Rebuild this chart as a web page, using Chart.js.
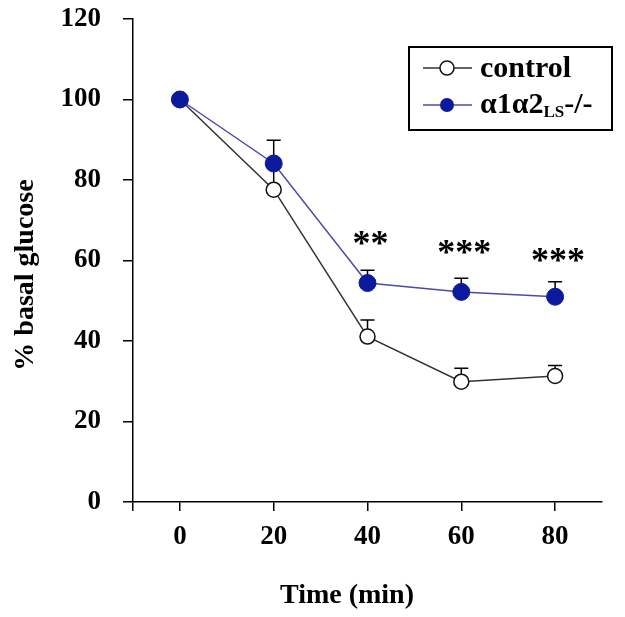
<!DOCTYPE html>
<html><head><meta charset="utf-8">
<script src="https://cdn.jsdelivr.net/npm/chart.js@4.4.0/dist/chart.umd.min.js"></script>
<style>html,body{margin:0;padding:0;background:#fff;}</style>
</head><body>
<canvas id="c" width="625" height="617"></canvas>
<script>
// ---- data ----
const times = [0, 20, 40, 60, 80];
const controlMean = [100, 77.6, 41.1, 29.9, 31.3];
const controlErr = [0, 5.5, 4.1, 3.3, 2.6];
const koMean = [100, 84.1, 54.4, 52.2, 51.0];
const koErr = [0, 5.8, 3.2, 3.4, 3.7];
const sigTimes = [40, 60, 80];
const sigLabels = ['**', '***', '***'];
const sigLevels = [65.6, 63.4, 61.4];
const xTickValues = [-10, 0, 20, 40, 60, 80];
const yTickValues = [0, 20, 40, 60, 80, 100, 120];
const xTitle = 'Time (min)';
const yTitle = '% basal glucose';
const legendControl = 'control';
const legendKO = ['\u03b11\u03b12', 'LS', '-/-'];

const FONT = "'Liberation Serif', 'DejaVu Serif', serif";
const KO_FILL = '#0b1a9c';
const KO_LINE = '#4b4bab';
const CT_LINE = '#333333';

const toXY = (xs, ys) => xs.map((x, i) => ({x: x, y: ys[i]}));

const errorBars = {
  id: 'errorBars',
  beforeDatasetsDraw(chart) {
    const ctx = chart.ctx, xs = chart.scales.x, ys = chart.scales.y;
    ctx.save();
    ctx.strokeStyle = '#000';
    ctx.lineWidth = 1.5;
    [[controlMean, controlErr], [koMean, koErr]].forEach(([m, e]) => {
      times.forEach((t, i) => {
        if (!e[i]) return;
        const px = xs.getPixelForValue(t);
        const y0 = ys.getPixelForValue(m[i]);
        const y1 = ys.getPixelForValue(m[i] + e[i]);
        ctx.beginPath();
        ctx.moveTo(px, y0); ctx.lineTo(px, y1);
        ctx.moveTo(px - 7, y1); ctx.lineTo(px + 7, y1);
        ctx.stroke();
      });
    });
    ctx.restore();
  },
  afterDraw(chart) {
    const ctx = chart.ctx, xs = chart.scales.x, ys = chart.scales.y;
    ctx.save();
    ctx.fillStyle = '#000';
    // significance stars
    ctx.font = 'bold 36px ' + FONT;
    ctx.textAlign = 'center';
    ctx.textBaseline = 'alphabetic';
    sigTimes.forEach((t, i) => {
      const px = xs.getPixelForValue(t) + 3;
      const py = ys.getPixelForValue(sigLevels[i]) + 0.48 * 36;
      ctx.fillText(sigLabels[i], px, py);
    });
    // axis titles
    ctx.font = 'bold 28px ' + FONT;
    ctx.textBaseline = 'middle';
    ctx.fillText(xTitle, 347, 596);
    ctx.save();
    ctx.translate(26, 275);
    ctx.rotate(-Math.PI / 2);
    ctx.fillText(yTitle, 0, 0);
    ctx.restore();
    // legend box
    ctx.lineWidth = 2;
    ctx.strokeStyle = '#000';
    ctx.strokeRect(409, 47, 203, 83);
    // control entry
    ctx.lineWidth = 1.5;
    ctx.strokeStyle = CT_LINE;
    ctx.beginPath(); ctx.moveTo(423, 68); ctx.lineTo(472, 68); ctx.stroke();
    ctx.beginPath(); ctx.arc(447, 68, 7, 0, Math.PI * 2);
    ctx.fillStyle = '#fff'; ctx.fill(); ctx.strokeStyle = '#111'; ctx.stroke();
    // ko entry
    ctx.strokeStyle = KO_LINE;
    ctx.beginPath(); ctx.moveTo(423, 105); ctx.lineTo(472, 105); ctx.stroke();
    ctx.beginPath(); ctx.arc(447, 105, 7, 0, Math.PI * 2);
    ctx.fillStyle = KO_FILL; ctx.fill();
    // legend texts
    ctx.fillStyle = '#000';
    ctx.textAlign = 'left';
    ctx.textBaseline = 'middle';
    ctx.font = 'bold 30px ' + FONT;
    ctx.fillText(legendControl, 480, 69);
    let x = 480;
    ctx.fillText(legendKO[0], x, 105);
    x += ctx.measureText(legendKO[0]).width;
    ctx.font = 'bold 17px ' + FONT;
    ctx.fillText(legendKO[1], x, 113);
    x += ctx.measureText(legendKO[1]).width;
    ctx.font = 'bold 30px ' + FONT;
    ctx.fillText(legendKO[2], x, 105);
    ctx.restore();
  }
};

new Chart(document.getElementById('c'), {
  type: 'line',
  data: {
    datasets: [
      {
        label: 'ko',
        data: toXY(times, koMean),
        order: 0,
        borderColor: KO_LINE,
        borderWidth: 1.5,
        pointRadius: 8.5,
        pointBackgroundColor: KO_FILL,
        pointBorderColor: KO_FILL,
        pointBorderWidth: 1,
        tension: 0
      },
      {
        label: 'control',
        data: toXY(times, controlMean),
        order: 1,
        borderColor: CT_LINE,
        borderWidth: 1.5,
        pointRadius: 7.5,
        pointBackgroundColor: '#fff',
        pointBorderColor: '#111',
        pointBorderWidth: 1.5,
        tension: 0
      }
    ]
  },
  options: {
    responsive: false,
    animation: false,
    devicePixelRatio: 1,
    layout: {padding: {top: 19, right: 23, left: 0, bottom: 0}},
    plugins: {legend: {display: false}, tooltip: {enabled: false}},
    scales: {
      x: {
        type: 'linear',
        min: -10, max: 90,
        afterBuildTicks: s => { s.ticks = xTickValues.map(v => ({value: v})); },
        afterFit: s => { s.height = 115; s.paddingLeft = 0; s.paddingRight = 0; },
        grid: {drawOnChartArea: false, tickLength: 9, color: '#000', lineWidth: 1.5},
        border: {display: true, color: '#000', width: 1.5},
        ticks: {
          color: '#000',
          font: {family: FONT, size: 27, weight: 'bold'},
          padding: 10,
          maxRotation: 0,
          callback: v => (v < 0 ? '' : String(v))
        }
      },
      y: {
        min: 0, max: 120,
        afterBuildTicks: s => { s.ticks = yTickValues.map(v => ({value: v})); },
        afterFit: s => { s.width = 133; s.paddingTop = 0; s.paddingBottom = 0; },
        grid: {drawOnChartArea: false, tickLength: 10, color: '#000', lineWidth: 1.5},
        border: {display: true, color: '#000', width: 1.5},
        ticks: {
          color: '#000',
          font: {family: FONT, size: 27, weight: 'bold'},
          padding: 22
        }
      }
    }
  },
  plugins: [errorBars]
});
</script>
</body></html>
